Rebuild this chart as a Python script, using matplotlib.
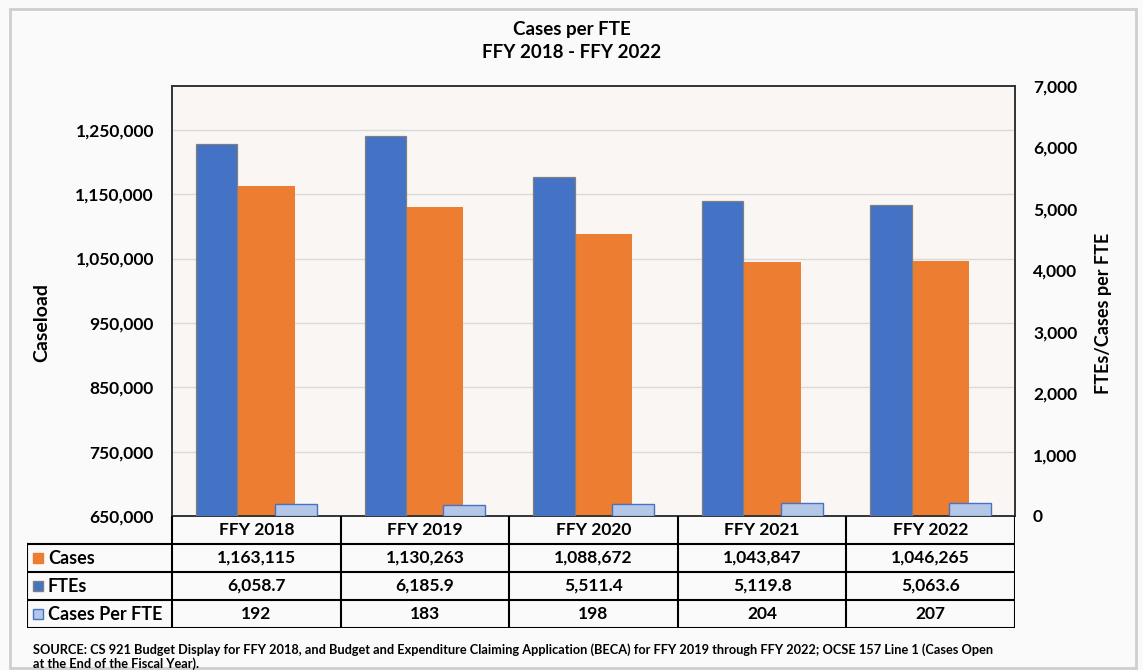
import numpy as np
import matplotlib
matplotlib.use("Agg")
import matplotlib.pyplot as plt
from matplotlib.patches import Rectangle
from matplotlib.ticker import FuncFormatter

plt.rcParams['font.family'] = ['Lato', 'DejaVu Sans']

# data
years = ['FFY 2018', 'FFY 2019', 'FFY 2020', 'FFY 2021', 'FFY 2022']
cases = [1163115, 1130263, 1088672, 1043847, 1046265]
ftes = [6058.7, 6185.9, 5511.4, 5119.8, 5063.6]
cases_per_fte = [192, 183, 198, 204, 207]
series_names = ['Cases', 'FTEs', 'Cases Per FTE']

C_CASES = '#ED7D31'
C_FTE = '#4472C4'
C_CPF = '#B4C7E7'

W, H = 1143, 670
fig = plt.figure(figsize=(W / 100, H / 100), dpi=100, facecolor='#fafafa')

# outer chart frame
fig.add_artist(Rectangle((10 / W, 2 / H), 1126 / W, 659 / H, transform=fig.transFigure,
                         fill=False, ec='#cfcfcf', lw=2))

# main plot area
ax = fig.add_axes([172 / W, 1 - 516 / H, 843 / W, 430 / H])
ax.set_facecolor('#faf6f3')
x = np.arange(len(years))
ax.bar(x + 0.06, cases, width=0.337, color=C_CASES, zorder=2)
ax.set_xlim(-0.5, 4.5)
ax.set_ylim(650000, 1318000)
ax.set_yticks(range(650000, 1250001, 100000))
ax.yaxis.set_major_formatter(FuncFormatter(lambda v, p: f'{v:,.0f}'))
ax.grid(axis='y', color='#d9d9d9', lw=1)
ax.set_axisbelow(True)
ax.set_xticks([])
ax.tick_params(axis='y', length=0, pad=13, labelsize=12.5)
for lab in ax.get_yticklabels():
    lab.set_fontweight('bold')
for s in ax.spines.values():
    s.set_color('#333333')
    s.set_linewidth(1.4)

# secondary axis: FTEs and cases per FTE
ax2 = ax.twinx()
ax2.bar(x - 0.235, ftes, width=0.246, color=C_FTE, edgecolor='#808080', lw=0.9)
ax2.bar(x + 0.234, cases_per_fte, width=0.249, color=C_CPF, edgecolor=C_FTE, lw=1)
ax2.set_ylim(0, 7000)
ax2.set_yticks(range(0, 7001, 1000))
ax2.yaxis.set_major_formatter(FuncFormatter(lambda v, p: f'{v:,.0f}'))
ax2.tick_params(axis='y', length=0, pad=13, labelsize=12.5)
for lab in ax2.get_yticklabels():
    lab.set_fontweight('bold')
for s in ax2.spines.values():
    s.set_visible(False)

fig.text(42 / W, 1 - 322 / H, 'Caseload', rotation=90, ha='center', va='center',
         fontsize=14, fontweight='bold')
fig.text(1104 / W, 1 - 313 / H, 'FTEs/Cases per FTE', rotation=90, ha='center', va='center',
         fontsize=13, fontweight='bold')

fig.text(0.5, 1 - 30 / H, 'Cases per FTE', ha='center', va='center', fontsize=13.5, fontweight='bold')
fig.text(0.5, 1 - 52 / H, 'FFY 2018 - FFY 2022', ha='center', va='center', fontsize=13.5, fontweight='bold')

# data table under the plot
col_px = 843 / 5
xl = -0.5 - 145 / col_px
tax = fig.add_axes([27 / W, 1 - 628 / H, (1015 - 27) / W, 112 / H])
tax.set_xlim(xl, 4.5)
tax.set_ylim(0, 4)
tax.axis('off')
lw = 1.5
for yy in [0, 1, 2, 3]:
    tax.plot([xl, 4.5], [yy, yy], color='black', lw=lw, solid_capstyle='projecting')
tax.plot([xl, xl], [0, 3], color='black', lw=lw, solid_capstyle='projecting')
for i in range(len(years) + 1):
    tax.plot([i - 0.5, i - 0.5], [0, 4], color='black', lw=lw, solid_capstyle='projecting')

rows = [
    [f'{v:,}' for v in cases],
    [f'{v:,.1f}' for v in ftes],
    [f'{v:,}' for v in cases_per_fte],
]
for i, yr in enumerate(years):
    tax.text(i, 3.5, yr, ha='center', va='center', fontsize=12.5, fontweight='bold')
    for r, vals in enumerate(rows):
        tax.text(i, 2.5 - r, vals[i], ha='center', va='center', fontsize=12.5, fontweight='bold')

leg_styles = [(C_CASES, C_CASES), (C_FTE, '#808080'), (C_CPF, C_FTE)]
sq_w = 10 / col_px
sq_h = 10 / 28
for r, (name, (fc, ec)) in enumerate(zip(series_names, leg_styles)):
    cy = 2.5 - r
    tax.add_patch(Rectangle((xl + 6 / col_px, cy - sq_h / 2), sq_w, sq_h, fc=fc, ec=ec, lw=1))
    tax.text(xl + 21 / col_px, cy, name, ha='left', va='center', fontsize=13, fontweight='bold')

fig.text(33 / W, 1 - 650 / H,
         'SOURCE: CS 921 Budget Display for FFY 2018, and Budget and Expenditure Claiming Application '
         '(BECA) for FFY 2019 through FFY 2022; OCSE 157 Line 1 (Cases Open',
         ha='left', va='center', fontsize=9.2, fontweight='bold')
fig.text(33 / W, 1 - 664 / H, 'at the End of the Fiscal Year).',
         ha='left', va='center', fontsize=9.2, fontweight='bold')

fig.savefig('out.png', dpi=100, facecolor=fig.get_facecolor())
